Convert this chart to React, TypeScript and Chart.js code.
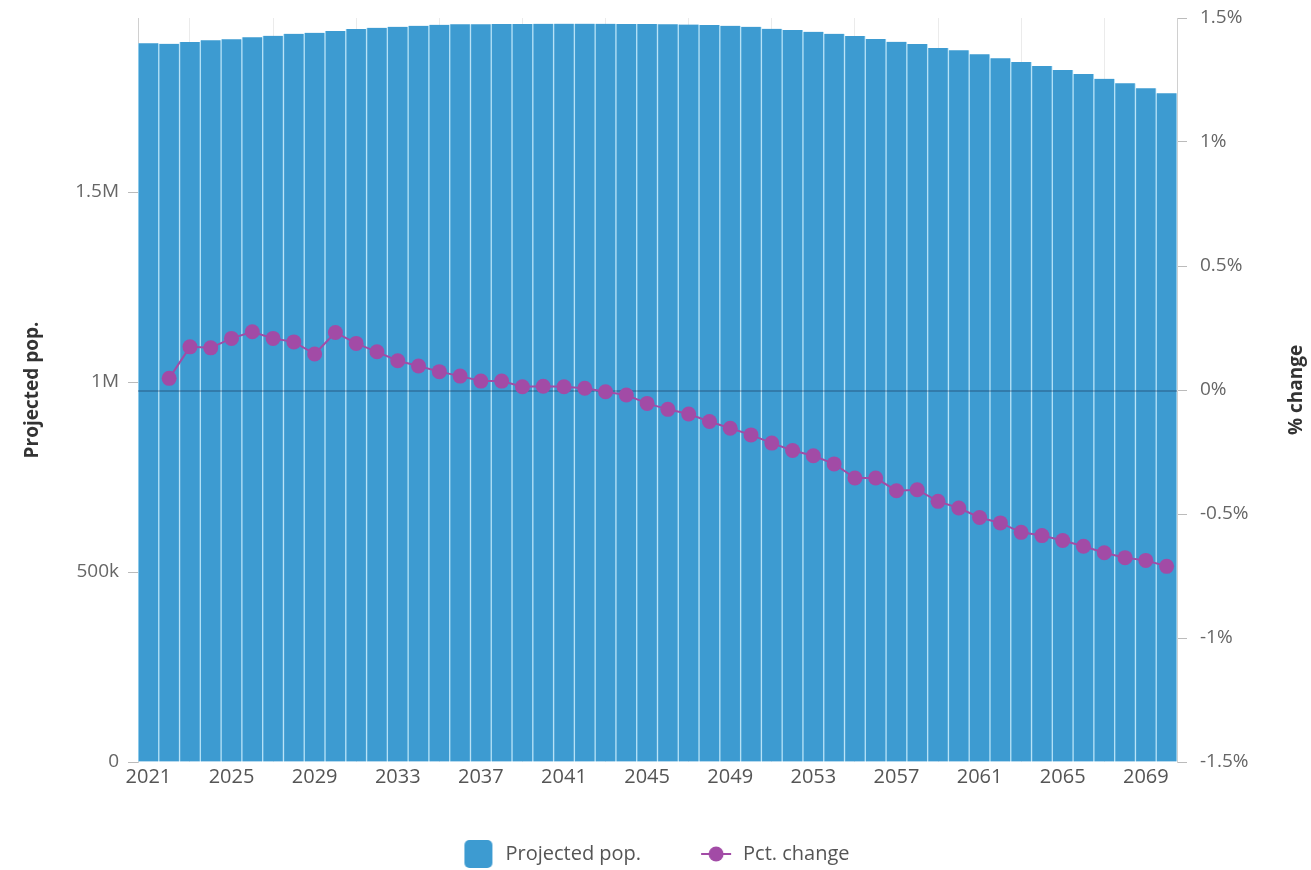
import React, { useEffect, useRef } from "react";
import { Chart, registerables } from "chart.js";

Chart.register(...registerables);

const years: string[] = [
  "2021","2022","2023","2024","2025","2026","2027","2028","2029","2030",
  "2031","2032","2033","2034","2035","2036","2037","2038","2039","2040",
  "2041","2042","2043","2044","2045","2046","2047","2048","2049","2050",
  "2051","2052","2053","2054","2055","2056","2057","2058","2059","2060",
  "2061","2062","2063","2064","2065","2066","2067","2068","2069","2070",
];

const projectedPop: number[] = [
  1891300, 1890300, 1894700, 1899200, 1901800, 1907100, 1911300, 1916600, 1919200, 1923700,
  1928900, 1932400, 1935000, 1937600, 1940300, 1941300, 1941500, 1942000, 1942500, 1942800,
  1943000, 1943000, 1942800, 1942500, 1942000, 1941500, 1940800, 1939500, 1937600, 1935000,
  1929700, 1926300, 1921800, 1916600, 1910500, 1902600, 1895500, 1889500, 1878900, 1872900,
  1862400, 1851800, 1842100, 1831600, 1821100, 1810500, 1798200, 1786100, 1772900, 1759800,
];

const pctChange: (number | null)[] = [
  null, 0.047, 0.174, 0.170, 0.208, 0.235, 0.208, 0.194, 0.145, 0.232,
  0.188, 0.154, 0.118, 0.097, 0.074, 0.056, 0.036, 0.036, 0.013, 0.015,
  0.013, 0.007, -0.007, -0.020, -0.054, -0.078, -0.097, -0.127, -0.154, -0.181,
  -0.214, -0.244, -0.265, -0.298, -0.355, -0.355, -0.406, -0.402, -0.449, -0.476,
  -0.514, -0.536, -0.574, -0.587, -0.607, -0.630, -0.656, -0.676, -0.687, -0.711,
];

const popTicks: number[] = [0, 500000, 1000000, 1500000];
const popTickLabels: string[] = ["0", "500k", "1M", "1.5M"];

const BAR_COLOR = "#3d9bd1";
const LINE_COLOR = "#a24ba6";
const FONT = "'Open Sans', sans-serif";

export default function App() {
  const ref = useRef<HTMLCanvasElement | null>(null);

  useEffect(() => {
    if (!ref.current) return;

    const barIcon = document.createElement("canvas");
    barIcon.width = 34;
    barIcon.height = 30;
    {
      const c = barIcon.getContext("2d")!;
      c.fillStyle = BAR_COLOR;
      c.beginPath();
      (c as any).roundRect(3, 1, 28, 28, 5);
      c.fill();
    }
    const lineIcon = document.createElement("canvas");
    lineIcon.width = 34;
    lineIcon.height = 30;
    {
      const c = lineIcon.getContext("2d")!;
      c.strokeStyle = LINE_COLOR;
      c.lineWidth = 2;
      c.beginPath();
      c.moveTo(2, 15);
      c.lineTo(32, 15);
      c.stroke();
      c.fillStyle = LINE_COLOR;
      c.beginPath();
      c.arc(17, 15, 7.5, 0, Math.PI * 2);
      c.fill();
    }

    const overlay = {
      id: "overlay",
      afterDatasetDraw(chart: any, args: any) {
        if (args.index !== 0) return;
        const { ctx, chartArea, scales } = chart;
        const y = scales.y1.getPixelForValue(0) + 1;
        ctx.save();
        ctx.strokeStyle = "rgba(25,45,75,0.38)";
        ctx.lineWidth = 1.5;
        ctx.beginPath();
        ctx.moveTo(chartArea.left, y);
        ctx.lineTo(chartArea.right, y);
        ctx.stroke();
        ctx.restore();
      },
      afterDraw(chart: any) {
        const { ctx, chartArea } = chart;
        ctx.save();
        ctx.translate(1297, (chartArea.top + chartArea.bottom) / 2);
        ctx.rotate(-Math.PI / 2);
        ctx.textAlign = "center";
        ctx.textBaseline = "middle";
        ctx.font = "bold 19px " + FONT;
        ctx.fillStyle = "#333";
        ctx.fillText("% change", 0, 0);
        ctx.restore();
      },
    };

    const noVPad = (s: any) => {
      s.paddingTop = 0;
      s.paddingBottom = 0;
    };

    const chart = new Chart(ref.current, {
      type: "bar",
      data: {
        labels: years,
        datasets: [
          {
            type: "bar",
            label: "Projected pop.",
            data: projectedPop,
            yAxisID: "y",
            backgroundColor: BAR_COLOR,
            borderColor: "#b3e0f6",
            borderWidth: { left: 1, right: 1, top: 0, bottom: 0 } as any,
            borderSkipped: false,
            barPercentage: 1,
            categoryPercentage: 1,
            order: 1,
          },
          {
            type: "line",
            label: "Pct. change",
            data: pctChange,
            yAxisID: "y1",
            borderColor: LINE_COLOR,
            backgroundColor: LINE_COLOR,
            borderWidth: 2,
            pointRadius: 7.5,
            pointBorderWidth: 0,
            pointBackgroundColor: LINE_COLOR,
            tension: 0,
            spanGaps: false,
            order: 0,
          } as any,
        ],
      },
      options: {
        animation: false,
        responsive: true,
        maintainAspectRatio: false,
        layout: { padding: { top: 18, left: 0, right: 0, bottom: 0 } },
        font: { family: FONT } as any,
        plugins: {
          tooltip: { enabled: false },
          legend: {
            position: "bottom",
            labels: {
              usePointStyle: true,
              pointStyleWidth: 34,
              padding: 58,
              color: "#555",
              font: { family: FONT, size: 20 },
              generateLabels: () => [
                {
                  text: "Projected pop.",
                  pointStyle: barIcon as any,
                  fillStyle: BAR_COLOR,
                  strokeStyle: "transparent",
                  lineWidth: 0,
                  hidden: false,
                  datasetIndex: 0,
                  fontColor: "#555",
                } as any,
                {
                  text: "Pct. change",
                  pointStyle: lineIcon as any,
                  fillStyle: LINE_COLOR,
                  strokeStyle: "transparent",
                  lineWidth: 0,
                  hidden: false,
                  datasetIndex: 1,
                  fontColor: "#555",
                } as any,
              ],
            },
          },
        },
        scales: {
          x: {
            offset: true,
            grid: { display: true, offset: true, drawTicks: false, color: "#ebebeb" },
            border: { display: false },
            ticks: {
              autoSkip: false,
              maxRotation: 0,
              minRotation: 0,
              padding: 3,
              color: "#555",
              font: { family: FONT, size: 20 },
              callback: (_v: any, i: number) => (i % 4 === 0 ? years[i] : null),
            },
            afterFit: (s: any) => {
              s.height = 24;
            },
          },
          y: {
            position: "left",
            min: 0,
            max: 1958000,
            afterBuildTicks: (s: any) => {
              s.ticks = popTicks.map((v) => ({ value: v }));
            },
            grid: { drawOnChartArea: false, drawTicks: true, tickLength: 10, tickColor: "#bbb" },
            border: { display: true, color: "#d0d0d0" },
            ticks: {
              padding: 9,
              color: "#666",
              font: { family: FONT, size: 19 },
              callback: (v: any) => {
                const i = popTicks.indexOf(Number(v));
                return i >= 0 ? popTickLabels[i] : null;
              },
            },
            title: {
              display: true,
              text: "Projected pop.",
              color: "#333",
              font: { family: FONT, size: 19, weight: "bold" },
              padding: { top: 21, bottom: 0 },
            },
            afterFit: (s: any) => {
              s.width = 138;
              noVPad(s);
            },
          },
          y1: {
            position: "right",
            min: -1.5,
            max: 1.5,
            grid: { drawOnChartArea: false, drawTicks: true, tickLength: 10, tickColor: "#bbb" },
            border: { display: true, color: "#d0d0d0" },
            ticks: {
              stepSize: 0.5,
              padding: 13,
              color: "#666",
              font: { family: FONT, size: 19 },
              callback: (v: any) => `${v}%`,
            },
            afterFit: (s: any) => {
              s.width = 134;
              noVPad(s);
            },
          },
        },
      },
      plugins: [overlay],
    });

    return () => chart.destroy();
  }, []);

  return (
    <div style={{ position: "fixed", left: 0, top: 0, width: 1311, height: 874, background: "#fff" }}>
      <canvas ref={ref} />
    </div>
  );
}
